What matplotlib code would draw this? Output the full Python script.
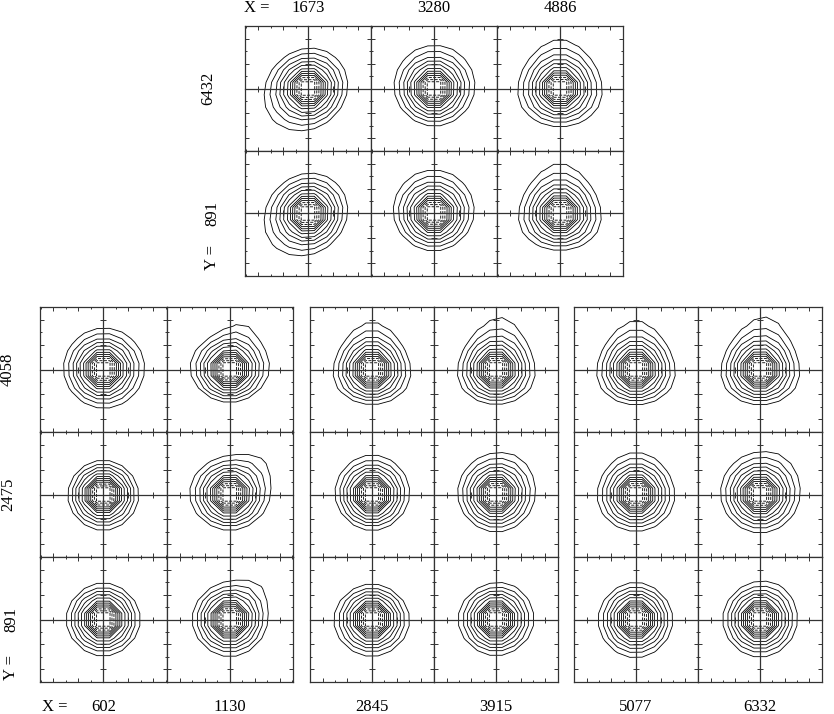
import numpy as np
import matplotlib
matplotlib.use("Agg")
import matplotlib.pyplot as plt
from matplotlib.ticker import MultipleLocator, FixedLocator

W, H = 834, 714
FONT = ["Liberation Serif", "DejaVu Serif"]

# panel positions (labels of the grid)
top_x = [1673, 3280, 4886]
top_y = [6432, 891]
bot_x = [602, 1130, 2845, 3915, 5077, 6332]
bot_y = [4058, 2475, 891]

# shape of each PSF (rows follow *_y, cols *_x)
# scale = radius of the outer contour in pixels (1 pixel = 1 minor tick)
top_scale = [[3.28, 3.20, 3.36],
             [3.28, 3.20, 3.28]]
top_dip = [[0.05, 0.07, 0.07],
           [0.05, 0.075, 0.08]]
top_dip_ang = [[200, 80, 90],
               [200, 95, 92]]
top_ell = [[0.06, 0.0, 0.0],
           [0.06, 0.0, 0.0]]
top_ell_ang = [[45, 0, 0],
               [45, 0, 0]]
top_tri = [[0.0, 0.0, 0.04],
           [0.0, 0.0, 0.05]]
top_lobe = [[0.0, 0.0, 0.0],
            [0.0, 0.0, 0.0]]
top_lobe_ang = [[0, 0, 0],
                [0, 0, 0]]

bot_scale = [[3.20, 2.90, 3.12, 3.12, 3.16, 3.16],
             [2.80, 3.04, 3.00, 3.12, 3.12, 3.20],
             [2.92, 2.96, 2.96, 2.96, 3.00, 3.00]]
bot_dip = [[0.04, 0.05, 0.08, 0.085, 0.085, 0.085],
           [0.02, 0.03, 0.045, 0.045, 0.045, 0.045],
           [0.0, 0.0, 0.02, 0.0, 0.02, 0.0]]
bot_dip_ang = [[60, 90, 90, 85, 90, 85],
               [270, 90, 80, 75, 90, 80],
               [0, 0, 250, 0, 225, 0]]
bot_ell = [[0.0, 0.06, 0.0, 0.0, 0.0, 0.0],
           [0.0, 0.035, 0.0, 0.0, 0.0, 0.0],
           [0.0, 0.0, 0.025, 0.025, 0.0, 0.0]]
bot_ell_ang = [[0, 0, 0, 0, 0, 0],
               [0, 0, 0, 0, 0, 0],
               [0, 0, 0, 0, 0, 0]]
bot_tri = [[0.0, 0.0, 0.05, 0.05, 0.05, 0.05],
           [0.0, 0.0, 0.0, 0.0, 0.02, 0.0],
           [0.0, 0.0, 0.0, 0.0, 0.0, 0.0]]
bot_lobe = [[0.0, 0.16, 0.0, 0.045, 0.0, 0.045],
            [0.0, 0.13, 0.0, 0.05, 0.0, 0.05],
            [0.0, 0.14, 0.0, 0.045, 0.0, 0.05]]
bot_lobe_ang = [[0, 75, 0, 60, 0, 60],
                [0, 50, 0, 55, 0, 55],
                [0, 50, 0, 60, 0, 55]]

N_LEVELS = 12
INNER = 0.73      # radius of the innermost contour (pixels)
STEP = 1.0        # pixel size of the sampled PSF image
LIM = 5.04


def psf_field(scale, dip, dip_ang, ell, ell_ang, tri, lobe, lobe_ang):
    # centre of the PSF sits on a pixel corner
    g = (np.arange(14) - 6.5) * STEP
    X, Y = np.meshgrid(g, g)
    r = np.hypot(X, Y)
    th = np.arctan2(Y, X)
    u = np.clip(r / scale, 0, 1.5)
    c = (dip * np.cos(th - np.radians(dip_ang))
         + ell * np.cos(2 * (th - np.radians(ell_ang)))
         + tri * np.cos(3 * (th - np.pi / 2))
         + lobe * np.exp(6 * (np.cos(th - np.radians(lobe_ang)) - 1)))
    f = np.log(r) - u ** 2 * c
    levels = np.log(np.geomspace(INNER, scale, N_LEVELS))
    return X, Y, f, levels


def rect(left, top, w, h):
    return [left / W, 1 - (top + h) / H, w / W, h / H]


def panel(fig, box, params):
    ax = fig.add_axes(rect(*box))
    X, Y, f, levels = psf_field(*params)
    ax.contour(X, Y, f, levels=levels, colors="k", linewidths=0.6)
    ax.set_xlim(-LIM, LIM)
    ax.set_ylim(-LIM, LIM)
    for a in (ax.xaxis, ax.yaxis):
        a.set_major_locator(MultipleLocator(2))
        a.set_minor_locator(MultipleLocator(1))
    ax.tick_params(which="both", direction="in", top=True, right=True,
                   labelbottom=False, labelleft=False, color="#333333", width=0.7)
    ax.tick_params(which="major", length=2.6)
    ax.tick_params(which="minor", length=1.6)
    for s in ax.spines.values():
        s.set_linewidth(0.9)
        s.set_color("#333333")

    # cross hair through the centre, with its own ticks
    cx = fig.add_axes(rect(*box))
    cx.patch.set_visible(False)
    cx.set_xlim(-LIM, LIM)
    cx.set_ylim(-LIM, LIM)
    for side in ("top", "right"):
        cx.spines[side].set_visible(False)
    for side in ("left", "bottom"):
        cx.spines[side].set_position(("data", 0))
        cx.spines[side].set_linewidth(0.9)
        cx.spines[side].set_color("#333333")
    cx.xaxis.set_major_locator(FixedLocator([-4, -2, 2, 4]))
    cx.yaxis.set_major_locator(FixedLocator([-4, -2, 2, 4]))
    cx.tick_params(direction="inout", length=4.5, width=0.7, color="#333333",
                   labelbottom=False, labelleft=False)
    return ax


fig = plt.figure(figsize=(W / 100, H / 100), dpi=100)

# top block: 3 x 2
top_left, top_top, pw, ph = 245, 26, 126, 125
for i in range(len(top_y)):
    for j in range(len(top_x)):
        params = (top_scale[i][j], top_dip[i][j], top_dip_ang[i][j],
                  top_ell[i][j], top_ell_ang[i][j], top_tri[i][j],
                  top_lobe[i][j], top_lobe_ang[i][j])
        panel(fig, (top_left + j * pw, top_top + i * ph, pw, ph), params)

# bottom: three blocks of 2 x 3
group_left = [40, 310, 574]
group_pw = [126.5, 124, 124]
bot_top = 307
for i in range(len(bot_y)):
    for j in range(len(bot_x)):
        g, k = divmod(j, 2)
        params = (bot_scale[i][j], bot_dip[i][j], bot_dip_ang[i][j],
                  bot_ell[i][j], bot_ell_ang[i][j], bot_tri[i][j],
                  bot_lobe[i][j], bot_lobe_ang[i][j])
        panel(fig, (group_left[g] + k * group_pw[g], bot_top + i * ph,
                    group_pw[g], ph), params)


def label(x, y, s, rot=0):
    fig.text(x / W, 1 - y / H, s, ha="center", va="center", rotation=rot,
             fontsize=12, family=FONT)


# top labels
label(257, 8, "X =")
for j, v in enumerate(top_x):
    label(top_left + (j + 0.5) * pw, 8, str(v))
label(208, top_top + 0.5 * ph, str(top_y[0]), 90)
label(212, top_top + 1.5 * ph, str(top_y[1]), 90)
label(212, 257, "Y =", 90)

# bottom labels
label(55, 707, "X =")
for j, v in enumerate(bot_x):
    g, k = divmod(j, 2)
    label(group_left[g] + (k + 0.5) * group_pw[g], 707, str(v))
for i, v in enumerate(bot_y):
    label(8 if v > 999 else 11, bot_top + (i + 0.5) * ph, str(v), 90)
label(11, 667, "Y =", 90)

fig.savefig("out.png", dpi=100)
